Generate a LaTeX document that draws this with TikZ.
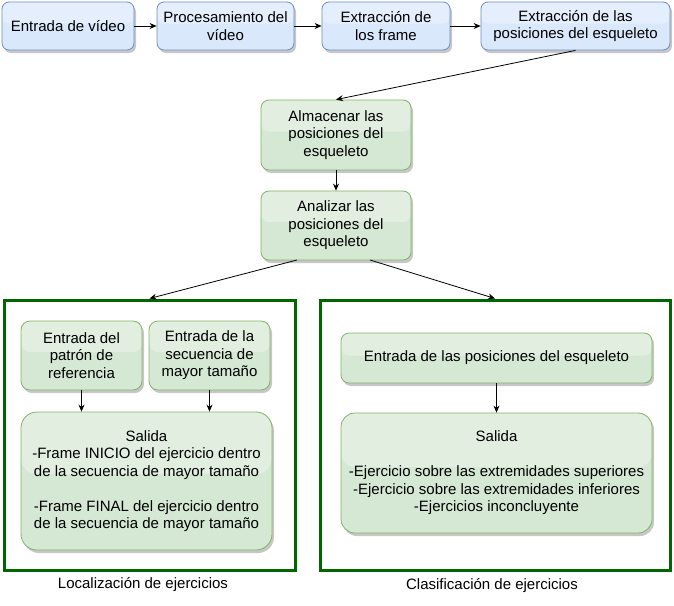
\documentclass[tikz,border=0pt]{standalone}
\usepackage{fontspec}
\setmainfont{Liberation Sans}
\usetikzlibrary{shadows,calc,arrows.meta}
\definecolor{bfill}{HTML}{DAE8FC}
\definecolor{bstroke}{HTML}{6C8EBF}
\definecolor{gfill}{HTML}{D5E8D4}
\definecolor{gstroke}{HTML}{82B366}
\definecolor{cont}{HTML}{006600}
\tikzset{
  base/.style={align=center, inner sep=0pt, font=\fontsize{15}{17.5}\selectfont, text=black,
    line width=0.8pt,
    drop shadow={shadow xshift=2pt,shadow yshift=-3pt,opacity=0.22,fill=black},
    path picture={\fill[white,fill opacity=0.3] (path picture bounding box.north west) rectangle ($(path picture bounding box.north east)!0.45!(path picture bounding box.south east)$);}},
  bluebox/.style={base, draw=bstroke, fill=bfill, rounded corners=7pt},
  greenbox/.style={base, draw=gstroke, fill=gfill},
  container/.style={draw=cont, line width=3pt},
  arr/.style={-{Stealth[length=7pt,width=6pt]}, line width=0.8pt, black},
  lbl/.style={font=\fontsize{15}{17.5}\selectfont, text=black, inner sep=0pt}
}
\begin{document}
\begin{tikzpicture}[x=1pt,y=-1pt]
\useasboundingbox (0,0) rectangle (674,605);
% top row
\node[bluebox, minimum width=132pt, minimum height=48pt] (b1) at (68,26) {Entrada de vídeo};
\node[bluebox, minimum width=137pt, minimum height=48pt] (b2) at (225.5,26) {Procesamiento del\\vídeo};
\node[bluebox, minimum width=128pt, minimum height=48pt] (b3) at (386,26) {Extracción de\\los frame};
\node[bluebox, minimum width=189pt, minimum height=48pt] (b4) at (575.5,26) {Extracción de las\\posiciones del esqueleto};
\draw[arr] (b1) -- (b2);
\draw[arr] (b2) -- (b3);
\draw[arr] (b3) -- (b4);
% middle
\node[greenbox, rounded corners=8pt, minimum width=150pt, minimum height=70pt] (alm) at (336,135) {Almacenar las\\posiciones del\\esqueleto};
\node[greenbox, rounded corners=8pt, minimum width=150pt, minimum height=69pt] (ana) at (336,225.5) {Analizar las\\posiciones del\\esqueleto};
\draw[arr] (b4.south) -- (alm.north);
\draw[arr] (alm) -- (ana);
% containers
\node[container, minimum width=291pt, minimum height=270pt] (L) at (149.5,435) {};
\node[container, minimum width=350pt, minimum height=270pt] (R) at (495,435) {};
\coordinate (aL) at (297,260);
\coordinate (aR) at (370,260);
\draw[arr] (aL) -- (L.north);
\draw[arr] (aR) -- (R.north);
% left container contents
\node[greenbox, rounded corners=9pt, minimum width=121pt, minimum height=69pt] (e1) at (81.5,355.5) {Entrada del\\patrón de\\referencia};
\node[greenbox, rounded corners=9pt, minimum width=121pt, minimum height=69pt] (e2) at (209.5,355.5) {Entrada de la\\secuencia de\\mayor tamaño};
\node[greenbox, rounded corners=16pt, minimum width=251pt, minimum height=138pt] (s1) at (146.5,481) {Salida\\-Frame INICIO del ejercicio dentro\\de la secuencia de mayor tamaño\\[17.5pt]-Frame FINAL del ejercicio dentro\\de la secuencia de mayor tamaño};
\draw[arr] (e1.south) -- (e1.south |- s1.north);
\draw[arr] (e2.south) -- (e2.south |- s1.north);
% right container contents
\node[greenbox, rounded corners=8pt, minimum width=311pt, minimum height=50pt] (e3) at (496.5,358) {Entrada de las posiciones del esqueleto};
\node[greenbox, rounded corners=14pt, minimum width=311pt, minimum height=120pt] (s2) at (496.5,473) {Salida\\[17.5pt]-Ejercicio sobre las extremidades superiores\\-Ejercicio sobre las extremidades inferiores\\-Ejercicios inconcluyente};
\draw[arr] (e3) -- (s2);
% labels
\node[lbl] (lab1) at (143,585) {Localización de ejercicios};
\node[lbl] (lab2) at (492,586) {Clasificación de ejercicios};
\end{tikzpicture}
\end{document}
